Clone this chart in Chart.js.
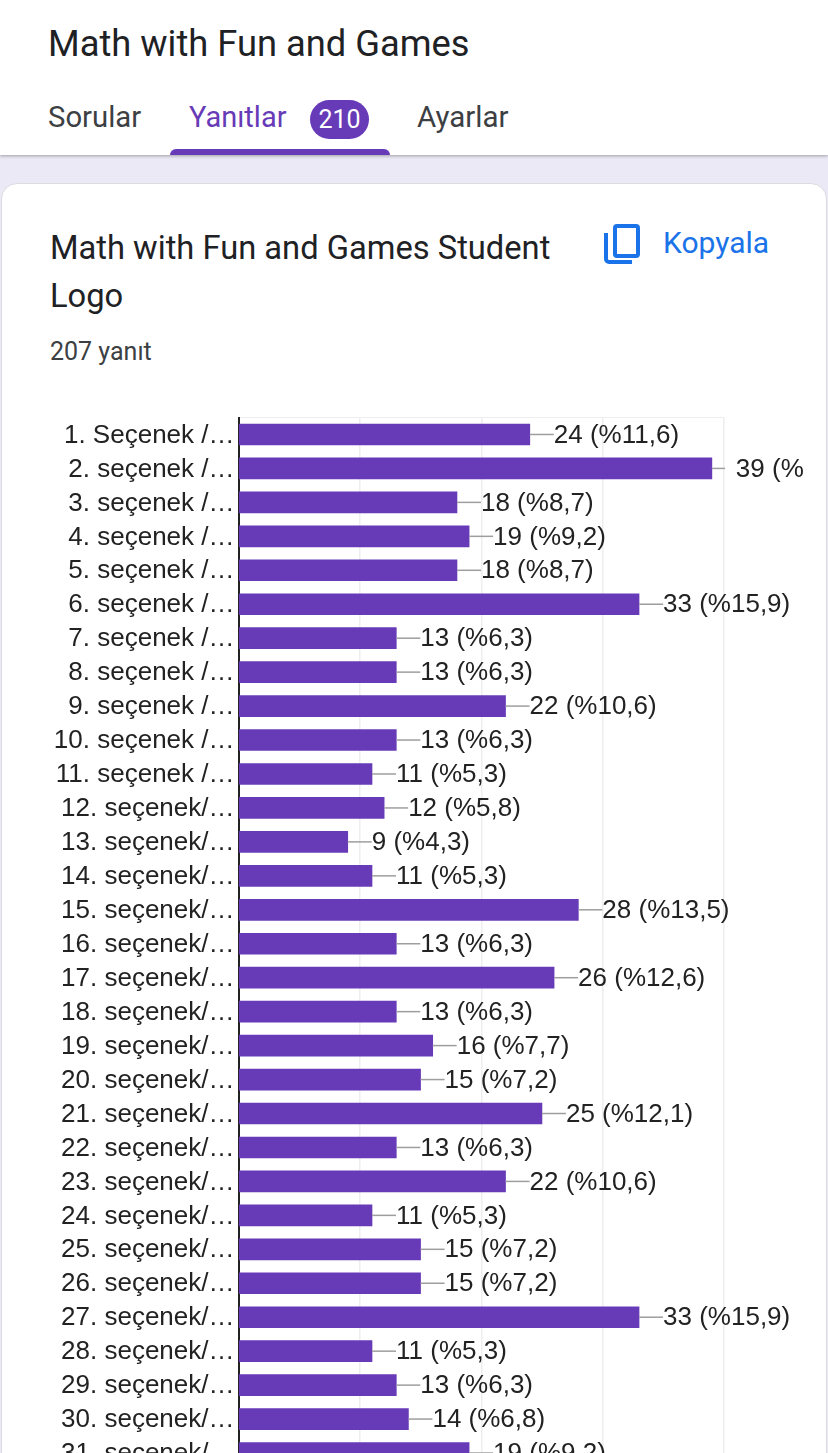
<!DOCTYPE html>
<html>
<head>
<meta charset="utf-8">
<script src="https://cdn.jsdelivr.net/npm/chart.js@4"></script>
<style>
html,body{margin:0;padding:0;width:828px;height:1453px;overflow:hidden;background:#ece9f6;font-family:Roboto,sans-serif}
#top{position:absolute;left:0;top:0;width:828px;height:155px;background:#fff;box-shadow:0 1px 3px rgba(60,64,67,.45)}
.t{position:absolute;white-space:nowrap}
#card{position:absolute;left:1px;top:183px;width:824px;height:1400px;background:#fff;border:1px solid #dadce0;border-radius:16px}
#tab{position:absolute;left:170px;top:149px;width:220px;height:6px;background:#673ab7;border-radius:6px 6px 0 0}
#badge{position:absolute;left:310px;top:100px;width:59px;height:39px;line-height:39px;border-radius:20px;background:#673ab7;color:#fff;text-align:center;font-size:25px}
#chart{position:absolute;left:0;top:400px}
</style>
</head>
<body>
<div id="top">
  <div class="t" style="left:48px;top:22px;font-size:36.3px;color:#202124">Math with Fun and Games</div>
  <div class="t" style="left:48px;top:100px;font-size:29.3px;color:#3c4043">Sorular</div>
  <div class="t" style="left:189px;top:100px;font-size:29px;color:#673ab7">Yanıtlar</div>
  <div id="badge">210</div>
  <div class="t" style="left:417px;top:100px;font-size:29.5px;color:#3c4043">Ayarlar</div>
  <div id="tab"></div>
</div>
<div id="card"></div>
<div class="t" style="left:50px;top:229px;font-size:32.7px;color:#202124">Math with Fun and Games Student</div>
<div class="t" style="left:50px;top:277px;font-size:32.7px;color:#202124">Logo</div>
<div class="t" style="left:50px;top:337px;font-size:25px;color:#3c4043">207 yanıt</div>
<svg style="position:absolute;left:604px;top:224px" width="36" height="40" viewBox="0 0 36 40" fill="none" stroke="#1a73e8" stroke-width="4">
  <rect x="11" y="2" width="23" height="30" rx="2"/>
  <path d="M2 9V35a3 3 0 0 0 3 3H28"/>
</svg>
<div class="t" style="left:663px;top:225px;font-size:30px;color:#1a73e8">Kopyala</div>
<canvas id="chart" width="828" height="1070"></canvas>
<script>
// veriler
const categories = ["1. Seçenek /…","2. seçenek /…","3. seçenek /…","4. seçenek /…","5. seçenek /…","6. seçenek /…","7. seçenek /…","8. seçenek /…","9. seçenek /…","10. seçenek /…","11. seçenek /…","12. seçenek/…","13. seçenek/…","14. seçenek/…","15. seçenek/…","16. seçenek/…","17. seçenek/…","18. seçenek/…","19. seçenek/…","20. seçenek/…","21. seçenek/…","22. seçenek/…","23. seçenek/…","24. seçenek/…","25. seçenek/…","26. seçenek/…","27. seçenek/…","28. seçenek/…","29. seçenek/…","30. seçenek/…","31. seçenek/…"];
const answers = [24,39,18,19,18,33,13,13,22,13,11,12,9,11,28,13,26,13,16,15,25,13,22,11,15,15,33,11,13,14,19];
const barTexts = ["24 (%11,6)","39 (%","18 (%8,7)","19 (%9,2)","18 (%8,7)","33 (%15,9)","13 (%6,3)","13 (%6,3)","22 (%10,6)","13 (%6,3)","11 (%5,3)","12 (%5,8)","9 (%4,3)","11 (%5,3)","28 (%13,5)","13 (%6,3)","26 (%12,6)","13 (%6,3)","16 (%7,7)","15 (%7,2)","25 (%12,1)","13 (%6,3)","22 (%10,6)","11 (%5,3)","15 (%7,2)","15 (%7,2)","33 (%15,9)","11 (%5,3)","13 (%6,3)","14 (%6,8)","19 (%9,2)"];
const xTicks = [0,10,20,30,40];

// trait + texte au bout de chaque barre
const barLabels = {
  id: 'barLabels',
  afterDatasetsDraw(chart) {
    const ctx = chart.ctx;
    const right = chart.chartArea.right + 1;
    ctx.save();
    ctx.font = '26px "Liberation Sans"';
    ctx.fillStyle = '#222';
    ctx.textBaseline = 'middle';
    chart.getDatasetMeta(0).data.forEach(function(bar, i) {
      ctx.strokeStyle = '#9e9e9e';
      ctx.lineWidth = 1.5;
      ctx.beginPath();
      ctx.moveTo(bar.x, bar.y);
      ctx.lineTo(Math.min(bar.x + 24, right), bar.y);
      ctx.stroke();
      ctx.fillText(barTexts[i], bar.x + 24, bar.y + 1);
    });
    ctx.restore();
  }
};

new Chart(document.getElementById('chart'), {
  type: 'bar',
  data: {
    labels: categories,
    datasets: [{ data: answers, backgroundColor: '#673ab7', barThickness: 21 }]
  },
  options: {
    indexAxis: 'y',
    responsive: false,
    animation: false,
    devicePixelRatio: 1,
    layout: { padding: { top: 17.5, right: 104, bottom: 0, left: 0 } },
    plugins: { legend: { display: false }, tooltip: { enabled: false } },
    scales: {
      x: {
        min: 0,
        max: 40,
        afterBuildTicks: function(axis) { axis.ticks = xTicks.map(function(v) { return { value: v }; }); },
        ticks: { display: false },
        border: { display: false },
        grid: { color: '#eeeeee', lineWidth: 1.5, drawTicks: false }
      },
      y: {
        afterFit: function(axis) {
          axis.width = 238.5;
          axis.paddingTop = 0;
          axis.paddingBottom = 0;
        },
        ticks: {
          autoSkip: false,
          padding: 4,
          labelOffset: 1,
          color: '#222',
          font: { family: '"Liberation Sans"', size: 26 }
        },
        border: { color: '#222', width: 2 },
        grid: {
          drawTicks: false,
          color: function(c) { return c.index === 0 ? '#eeeeee' : 'transparent'; }
        }
      }
    }
  },
  plugins: [barLabels]
});
</script>
</body>
</html>
